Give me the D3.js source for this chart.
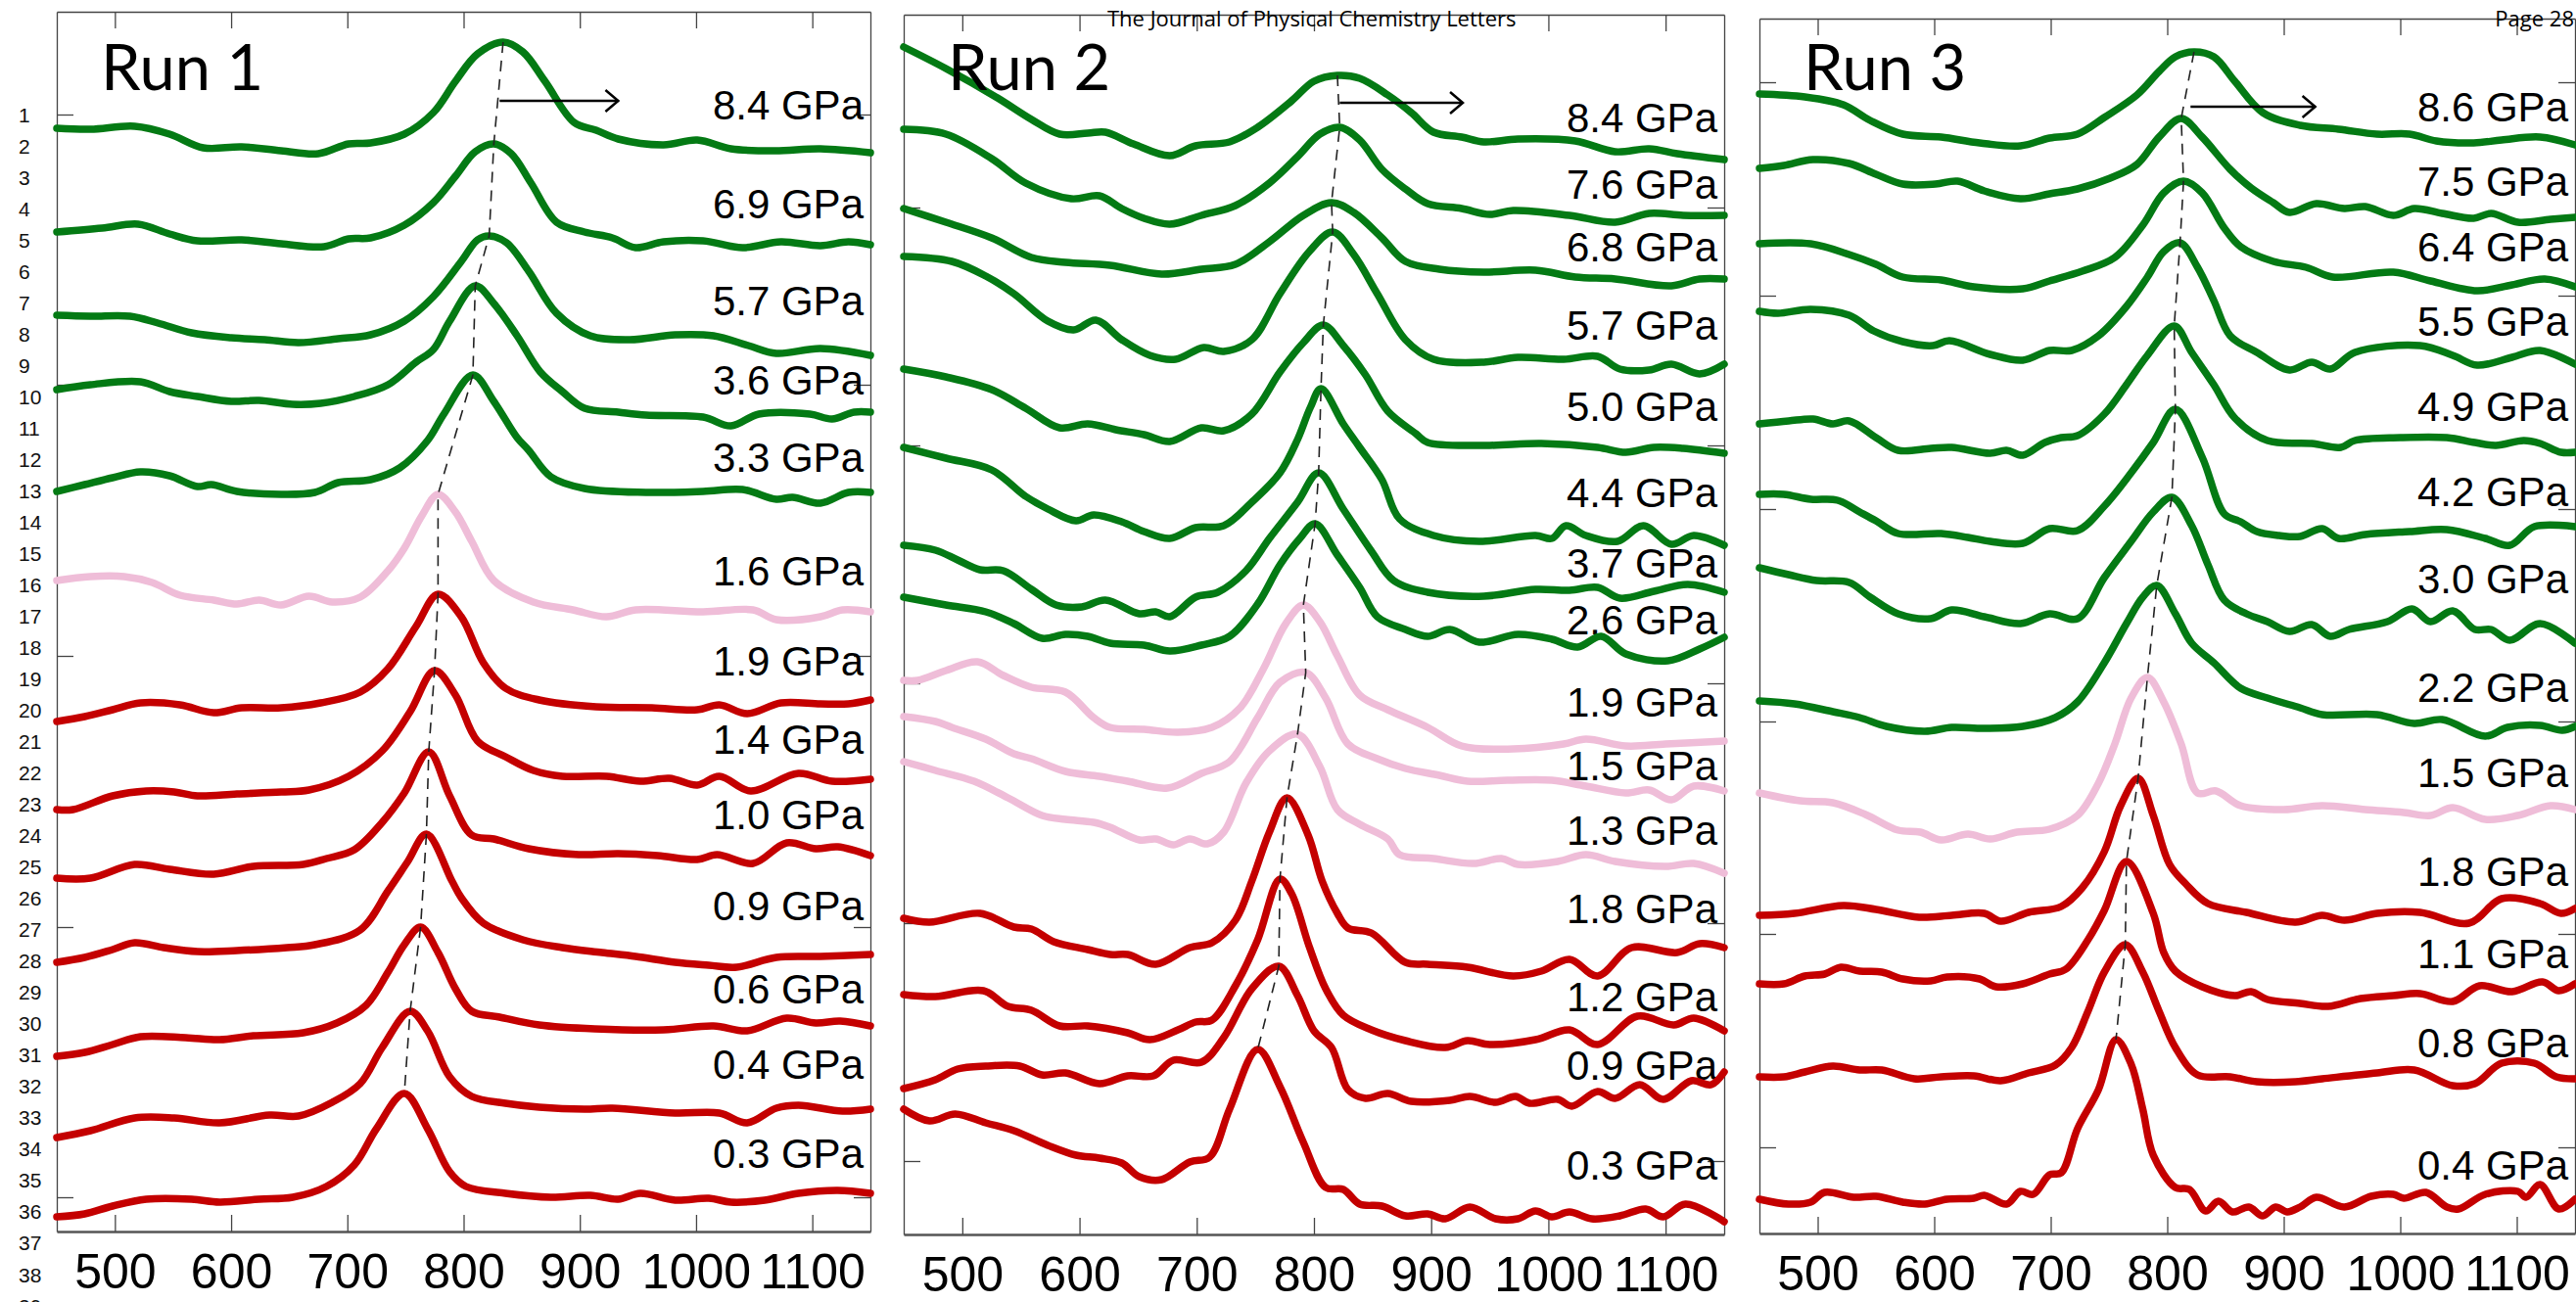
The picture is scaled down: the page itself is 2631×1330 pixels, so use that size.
<!DOCTYPE html>
<html>
<head>
<meta charset="utf-8">
<script src="https://cdn.jsdelivr.net/npm/d3@7"></script>
<style>
  html, body { margin: 0; padding: 0; background: #fff; overflow: hidden; }
  svg { display: block; }
</style>
</head>
<body>
<div id="chart"></div>
<script>
// ---- data (wavenumber cm-1, stacked intensity a.u.) ----
const runNames = ["Run 1", "Run 2", "Run 3"];
const xTicks = [500, 600, 700, 800, 900, 1000, 1100];

const run1Labels = ["8.4 GPa", "6.9 GPa", "5.7 GPa", "3.6 GPa", "3.3 GPa", "1.6 GPa", "1.9 GPa", "1.4 GPa", "1.0 GPa", "0.9 GPa", "0.6 GPa", "0.4 GPa", "0.3 GPa"];
const run1Phases = ["high", "high", "high", "high", "high", "mixed", "low", "low", "low", "low", "low", "low", "low"];
const run1LabelLevels = [1136, 1035, 936, 855, 776, 660, 568, 488, 411, 318, 233, 156, 65];
const run1YTicks = [35, 311, 588, 865, 1141];
const run1Arrow = [[831, 1155], [933, 1155]];
const run1Spectra = [
  [[450,1127],[479,1126],[517,1129],[547,1121],[576,1107],[609,1108],[643,1104],[675,1101],[701,1111],[720,1112],[749,1121],[774,1143],[793,1175],[812,1203],[834,1215],[851,1205],[870,1175],[895,1133],[914,1125],[933,1116],[972,1110],[1001,1115],[1030,1106],[1068,1104],[1107,1106],[1150,1102]],
  [[450,1021],[489,1025],[520,1029],[547,1019],[571,1012],[609,1013],[643,1009],[680,1006],[701,1014],[720,1015],[749,1028],[774,1051],[793,1078],[810,1103],[826,1111],[841,1101],[858,1071],[880,1031],[904,1021],[928,1015],[948,1005],[972,1011],[1006,1012],[1040,1005],[1073,1011],[1107,1007],[1131,1011],[1150,1008]],
  [[450,936],[479,935],[513,935],[537,928],[566,918],[600,913],[629,911],[658,908],[692,912],[720,916],[749,930],[774,955],[798,991],[812,1013],[822,1017],[837,1010],[856,981],[880,938],[909,915],[943,911],[982,916],[1015,915],[1045,905],[1069,897],[1107,902],[1150,895]],
  [[450,860],[479,865],[522,868],[547,858],[571,853],[600,848],[624,849],[653,845],[677,846],[706,853],[735,865],[759,888],[774,901],[788,930],[810,966],[826,948],[846,915],[866,878],[885,858],[904,841],[933,837],[957,834],[1006,832],[1030,823],[1054,835],[1098,835],[1117,830],[1136,837],[1150,837]],
  [[450,756],[474,763],[498,770],[522,776],[547,772],[571,761],[583,763],[605,756],[643,753],[672,755],[692,765],[720,768],[745,780],[769,808],[783,835],[808,875],[826,848],[846,811],[856,798],[875,771],[904,759],[957,755],[1006,756],[1040,758],[1069,748],[1083,750],[1107,744],[1131,755],[1150,755]],
  [[450,665],[479,669],[508,669],[532,663],[556,650],[585,645],[605,641],[624,645],[643,640],[667,649],[687,643],[711,648],[735,675],[749,698],[764,731],[778,753],[793,735],[807,705],[826,665],[860,643],[894,635],[923,628],[948,635],[1006,633],[1049,635],[1069,625],[1107,628],[1126,635],[1150,633]],
  [[450,521],[474,526],[498,533],[522,540],[556,538],[585,530],[609,535],[643,535],[677,540],[711,551],[735,575],[759,618],[778,651],[798,628],[817,581],[836,555],[865,543],[914,536],[962,535],[1001,533],[1020,538],[1044,529],[1073,540],[1107,539],[1131,539],[1150,543]],
  [[450,431],[464,431],[498,445],[527,450],[551,449],[571,445],[605,447],[643,449],[667,451],[701,465],[730,491],[754,531],[775,573],[793,548],[812,501],[836,485],[860,471],[885,465],[923,465],[952,460],[977,463],[1001,456],[1020,465],[1047,450],[1088,468],[1117,460],[1150,462]],
  [[450,361],[479,361],[517,375],[547,370],[585,365],[619,373],[662,375],[682,381],[706,390],[730,418],[749,448],[770,490],[788,445],[807,405],[826,401],[856,391],[899,385],[933,386],[967,384],[1001,380],[1018,385],[1049,376],[1078,397],[1103,391],[1122,393],[1150,384]],
  [[450,275],[474,280],[498,288],[517,295],[542,290],[571,286],[605,287],[648,290],[672,293],[711,308],[735,348],[752,378],[768,406],[790,358],[798,341],[817,315],[851,298],[885,290],[919,285],[948,281],[982,275],[1011,272],[1035,270],[1069,280],[1107,281],[1150,283]],
  [[450,179],[474,183],[498,191],[522,199],[561,198],[590,196],[619,200],[662,203],[691,213],[716,231],[735,265],[749,293],[763,311],[778,285],[793,248],[807,225],[831,219],[865,211],[913,207],[972,206],[1015,210],[1044,205],[1078,218],[1103,213],[1124,215],[1150,210]],
  [[450,96],[479,103],[517,116],[551,116],[590,111],[633,119],[658,118],[687,132],[711,151],[730,188],[754,225],[769,205],[788,158],[807,138],[836,131],[865,127],[904,125],[928,126],[982,121],[1020,121],[1044,111],[1069,126],[1088,129],[1126,123],[1150,125]],
  [[450,15],[474,18],[498,26],[527,33],[566,33],[590,30],[624,33],[653,35],[682,46],[706,68],[725,105],[749,141],[769,105],[788,61],[802,46],[836,39],[875,35],[909,37],[933,33],[952,39],[982,32],[1011,34],[1030,30],[1059,32],[1088,39],[1122,42],[1150,39]]
];

const run2Labels = ["8.4 GPa", "7.6 GPa", "6.8 GPa", "5.7 GPa", "5.0 GPa", "4.4 GPa", "3.7 GPa", "2.6 GPa", "1.9 GPa", "1.5 GPa", "1.3 GPa", "1.8 GPa", "1.2 GPa", "0.9 GPa", "0.3 GPa"];
const run2Phases = ["high", "high", "high", "high", "high", "high", "high", "high", "mixed", "mixed", "mixed", "low", "low", "low", "low"];
const run2LabelLevels = [1126, 1058, 994, 914, 831, 743, 671, 613, 529, 464, 398, 318, 228, 158, 56];
const run2YTicks = [75, 318, 563, 806, 1049];
const run2Arrow = [[822, 1156], [927, 1156]];
const run2Spectra = [
  [[450,1213],[486,1191],[530,1161],[559,1139],[583,1124],[607,1125],[622,1126],[646,1114],[677,1102],[699,1112],[728,1116],[752,1131],[781,1158],[800,1178],[820,1184],[839,1181],[863,1164],[883,1146],[902,1126],[926,1121],[945,1116],[974,1119],[1023,1117],[1057,1106],[1086,1109],[1110,1104],[1150,1098]],
  [[450,1129],[486,1124],[525,1099],[554,1074],[593,1058],[617,1061],[636,1048],[655,1038],[677,1032],[704,1041],[733,1051],[762,1074],[786,1101],[805,1124],[822,1131],[839,1118],[858,1088],[878,1068],[897,1053],[926,1048],[950,1042],[970,1046],[1018,1041],[1057,1034],[1086,1043],[1115,1041],[1150,1041]],
  [[450,1048],[486,1034],[525,1018],[559,998],[588,993],[626,990],[670,981],[704,986],[733,991],[762,1014],[791,1041],[815,1054],[834,1044],[858,1018],[878,994],[907,986],[945,983],[989,985],[1023,978],[1057,976],[1105,969],[1129,976],[1150,976]],
  [[450,999],[491,994],[520,979],[544,961],[573,933],[595,924],[614,934],[636,914],[660,898],[682,894],[706,906],[723,902],[747,914],[771,961],[796,1004],[816,1024],[834,1001],[854,961],[878,914],[902,894],[945,891],[974,896],[1013,894],[1042,897],[1061,884],[1086,883],[1105,889],[1129,879],[1150,889]],
  [[450,884],[486,876],[525,863],[554,844],[583,824],[607,828],[631,822],[655,817],[677,810],[704,824],[723,821],[747,838],[771,881],[791,911],[808,929],[825,908],[844,878],[863,841],[887,818],[897,809],[945,806],[994,808],[1042,804],[1066,799],[1090,804],[1115,803],[1150,798]],
  [[450,804],[486,793],[525,781],[554,754],[573,741],[597,729],[612,735],[636,728],[655,718],[677,711],[699,722],[723,724],[747,748],[771,778],[786,812],[797,845],[806,864],[825,828],[839,804],[858,771],[873,731],[902,714],[941,708],[989,714],[1003,711],[1015,724],[1032,714],[1059,708],[1081,724],[1105,705],[1124,714],[1150,704]],
  [[450,704],[477,699],[496,689],[515,679],[535,678],[559,659],[580,643],[602,641],[622,648],[651,634],[665,636],[677,631],[699,651],[718,656],[742,678],[762,711],[786,748],[804,778],[825,741],[849,698],[868,668],[897,656],[945,652],[989,659],[1018,658],[1042,661],[1061,650],[1090,657],[1119,664],[1150,656]],
  [[450,651],[486,643],[520,636],[544,624],[568,609],[588,613],[607,611],[626,604],[655,602],[677,596],[704,602],[728,611],[752,644],[771,684],[788,711],[801,726],[820,694],[839,661],[854,631],[878,618],[897,611],[916,618],[941,605],[974,613],[1003,608],[1025,600],[1045,611],[1066,593],[1102,586],[1129,598],[1150,610]],
  [[450,566],[462,566],[486,576],[513,585],[535,571],[559,559],[588,554],[612,528],[626,518],[655,516],[684,513],[713,518],[737,538],[757,578],[776,624],[791,643],[805,626],[820,591],[839,551],[863,536],[897,518],[926,499],[970,496],[1013,501],[1032,506],[1066,499],[1100,501],[1150,504]],
  [[450,529],[477,524],[491,518],[520,506],[544,491],[559,486],[588,473],[617,468],[641,463],[675,456],[704,471],[728,483],[752,528],[771,564],[793,574],[810,548],[829,501],[854,486],[878,476],[907,469],[931,463],[965,464],[1003,464],[1032,458],[1066,451],[1086,454],[1105,444],[1124,458],[1150,453]],
  [[450,483],[477,474],[510,463],[539,446],[568,428],[588,424],[612,421],[626,416],[651,403],[665,404],[680,398],[694,404],[709,399],[723,411],[742,461],[762,494],[786,511],[805,478],[820,434],[839,419],[863,404],[873,388],[902,384],[936,379],[960,384],[974,378],[1008,381],[1032,388],[1057,381],[1100,376],[1124,379],[1150,369]],
  [[450,323],[472,319],[515,328],[544,314],[559,312],[578,299],[607,291],[626,286],[641,286],[665,276],[694,293],[713,298],[733,321],[747,361],[762,411],[777,446],[795,408],[807,361],[820,328],[829,313],[849,308],[878,278],[897,276],[931,273],[970,264],[994,269],[1018,281],[1042,264],[1071,293],[1110,288],[1129,297],[1150,293]],
  [[450,245],[477,243],[518,249],[539,233],[559,229],[583,213],[607,213],[641,206],[660,199],[684,209],[699,217],[713,219],[733,254],[752,301],[771,363],[781,348],[796,294],[810,251],[825,224],[849,209],[878,198],[912,191],[931,198],[950,194],[989,199],[1018,209],[1042,194],[1076,223],[1107,214],[1124,221],[1150,208]],
  [[450,149],[477,158],[496,169],[520,172],[549,172],[568,163],[588,165],[617,154],[641,162],[663,162],[680,178],[704,176],[723,201],[747,251],[770,274],[786,244],[800,208],[815,191],[829,148],[844,139],[863,144],[883,136],[916,137],[933,141],[955,135],[972,141],[984,134],[1008,138],[1020,131],[1042,146],[1057,139],[1078,153],[1098,138],[1122,157],[1139,153],[1150,166]],
  [[450,128],[472,116],[494,123],[520,114],[544,106],[573,91],[597,81],[617,78],[636,73],[651,59],[670,56],[694,74],[711,79],[728,128],[752,189],[771,151],[791,94],[810,48],[825,46],[839,31],[858,29],[878,19],[897,21],[912,16],[933,28],[955,16],[974,16],[989,24],[1003,18],[1018,23],[1037,16],[1061,19],[1083,26],[1098,18],[1117,31],[1150,13]]
];

const run3Labels = ["8.6 GPa", "7.5 GPa", "6.4 GPa", "5.5 GPa", "4.9 GPa", "4.2 GPa", "3.0 GPa", "2.2 GPa", "1.5 GPa", "1.8 GPa", "1.1 GPa", "0.8 GPa", "0.4 GPa"];
const run3Phases = ["high", "high", "high", "high", "high", "high", "high", "high", "mixed", "low", "low", "low", "low"];
const run3LabelLevels = [1136, 1060, 993, 917, 830, 743, 654, 543, 456, 355, 271, 180, 55];
const run3YTicks = [88, 306, 523, 740, 958, 1176];
const run3Arrow = [[820, 1151], [927, 1151]];
const run3Spectra = [
  [[450,1164],[489,1161],[522,1153],[545,1137],[573,1123],[606,1120],[639,1114],[674,1111],[699,1119],[723,1123],[746,1140],[774,1163],[793,1187],[807,1202],[823,1207],[840,1202],[858,1177],[882,1145],[914,1132],[947,1128],[980,1123],[1008,1123],[1031,1116],[1063,1114],[1087,1117],[1120,1120],[1150,1112]],
  [[450,1088],[471,1091],[496,1097],[527,1093],[550,1082],[573,1072],[601,1072],[620,1075],[643,1065],[674,1057],[699,1062],[723,1067],[751,1078],[774,1092],[793,1120],[812,1139],[830,1120],[854,1087],[872,1068],[891,1053],[905,1043],[928,1052],[952,1047],[970,1049],[994,1040],[1012,1047],[1036,1042],[1063,1037],[1078,1042],[1101,1033],[1129,1036],[1150,1038]],
  [[450,1011],[494,1011],[527,1000],[550,990],[573,977],[606,974],[634,967],[676,965],[699,973],[727,983],[755,997],[779,1030],[797,1063],[814,1075],[830,1063],[849,1027],[863,1008],[891,993],[919,987],[942,977],[994,982],[1026,973],[1066,963],[1096,969],[1124,975],[1150,967]],
  [[450,942],[466,940],[494,944],[527,938],[548,922],[573,911],[599,907],[613,912],[648,898],[676,892],[699,902],[718,902],[741,917],[765,947],[783,977],[797,1003],[811,1012],[826,987],[840,953],[854,917],[877,900],[905,882],[924,890],[940,883],[961,900],[1017,907],[1045,897],[1066,887],[1096,895],[1120,902],[1150,888]],
  [[450,827],[475,830],[496,832],[513,827],[527,830],[550,813],[569,800],[597,802],[615,803],[648,797],[662,800],[676,795],[695,808],[709,813],[723,815],[746,837],[765,867],[783,897],[806,927],[821,900],[840,867],[858,833],[886,810],[924,807],[949,803],[961,810],[1000,813],[1040,813],[1064,808],[1082,805],[1106,810],[1120,807],[1138,798],[1150,798]],
  [[450,755],[471,755],[494,750],[517,749],[536,737],[550,728],[569,715],[606,715],[629,711],[648,707],[676,705],[699,720],[723,718],[746,743],[769,777],[788,808],[807,842],[830,793],[849,735],[863,727],[877,717],[896,713],[914,712],[933,720],[947,710],[970,714],[1008,717],[1040,719],[1073,710],[1094,703],[1115,722],[1150,722]],
  [[450,680],[475,673],[499,667],[527,665],[545,650],[569,633],[597,628],[615,637],[643,630],[674,623],[699,633],[723,628],[746,670],[769,707],[788,737],[804,752],[821,723],[835,683],[849,647],[868,633],[886,625],[905,615],[924,622],[940,610],[956,617],[989,625],[1010,638],[1026,625],[1045,636],[1064,617],[1078,617],[1094,606],[1120,623],[1150,603]],
  [[450,544],[480,541],[513,533],[536,527],[559,518],[592,513],[615,517],[643,516],[676,518],[704,527],[723,543],[746,583],[765,623],[779,650],[791,662],[807,633],[821,603],[840,583],[863,557],[886,547],[914,537],[933,530],[980,530],[1012,521],[1036,525],[1073,508],[1092,517],[1120,519],[1139,514],[1150,518]],
  [[450,450],[485,442],[513,440],[541,428],[569,412],[588,410],[606,402],[629,408],[648,403],[671,410],[699,413],[723,427],[741,460],[755,500],[769,547],[783,568],[797,543],[812,500],[826,450],[842,452],[863,437],[900,433],[933,437],[970,433],[1003,430],[1026,427],[1045,435],[1073,423],[1101,427],[1129,437],[1150,433]],
  [[450,325],[480,327],[522,335],[550,331],[587,323],[615,325],[643,327],[657,319],[681,328],[709,334],[727,353],[746,390],[760,437],[775,465],[788,427],[802,377],[816,357],[835,337],[868,328],[910,318],[933,325],[952,320],[980,327],[1017,328],[1059,317],[1087,342],[1120,337],[1138,327],[1150,332]],
  [[450,255],[471,255],[489,263],[506,265],[520,272],[536,268],[555,267],[573,260],[597,258],[611,262],[639,260],[653,252],[676,255],[699,265],[713,270],[732,300],[746,330],[765,380],[788,327],[797,287],[807,268],[830,252],[858,243],[872,247],[886,239],[914,235],[938,232],[966,240],[994,243],[1017,245],[1045,237],[1068,253],[1096,247],[1122,257],[1136,248],[1150,255]],
  [[450,160],[471,160],[489,165],[513,171],[536,167],[555,167],[583,158],[606,160],[634,161],[657,156],[681,164],[704,172],[718,190],[732,227],[746,267],[764,295],[779,267],[793,227],[807,190],[826,162],[854,160],[877,155],[910,155],[933,158],[980,164],[1012,167],[1045,151],[1064,153],[1087,174],[1115,174],[1134,160],[1150,158]],
  [[450,35],[475,30],[494,32],[506,42],[531,37],[550,38],[573,32],[592,30],[611,35],[634,36],[643,39],[662,30],[674,43],[685,40],[699,60],[709,62],[723,107],[741,147],[756,198],[769,173],[779,127],[788,80],[807,47],[819,45],[833,23],[844,33],[856,22],[870,27],[882,18],[893,27],[903,22],[914,27],[928,37],[952,27],[975,38],[994,40],[1003,36],[1022,42],[1040,27],[1050,25],[1073,40],[1101,43],[1108,37],[1120,50],[1136,25],[1150,35]]
];

// ---- layout ----
const width = 2631;
const height = 1330;
const xDomain = [450, 1150];
const peakWindow = [720, 880]; // where the band maximum is searched

const panels = [
  { name: runNames[0], labels: run1Labels, phases: run1Phases, spectra: run1Spectra, levels: run1LabelLevels, yTicks: run1YTicks, arrow: run1Arrow, left: 58, right: 889, top: 12, bottom: 1258 },
  { name: runNames[1], labels: run2Labels, phases: run2Phases, spectra: run2Spectra, levels: run2LabelLevels, yTicks: run2YTicks, arrow: run2Arrow, left: 923, right: 1761, top: 15, bottom: 1261 },
  { name: runNames[2], labels: run3Labels, phases: run3Phases, spectra: run3Spectra, levels: run3LabelLevels, yTicks: run3YTicks, arrow: run3Arrow, left: 1797, right: 2630, top: 19, bottom: 1260 }
];

const phaseColor = d3.scaleOrdinal()
  .domain(["high", "mixed", "low"])
  .range(["#047a14", "#efbdd8", "#c40000"]);

const svg = d3.select("#chart")
  .append("svg")
  .attr("width", width)
  .attr("height", height);

// page furniture: manuscript line numbers
const lineY = d3.scaleLinear().domain([1, 38]).range([117, 1302]);
svg.append("g")
  .selectAll("text")
  .data(d3.range(1, 40))
  .join("text")
  .attr("x", 19)
  .attr("y", d => lineY(d))
  .attr("dominant-baseline", "central")
  .attr("font-family", "'Liberation Sans', Arial, sans-serif")
  .attr("font-size", 21)
  .attr("fill", "#111")
  .text(d => d);

panels.forEach(p => {
  const x = d3.scaleLinear().domain(xDomain).range([p.left, p.right]);
  const y = d3.scaleLinear().domain([0, p.bottom - p.top]).range([p.bottom, p.top]);
  const g = svg.append("g");

  // frame + inward ticks
  const bottomAxis = g.append("g")
    .attr("transform", `translate(0,${p.bottom})`)
    .call(d3.axisBottom(x).tickValues(xTicks).tickSize(-17).tickSizeOuter(0).tickPadding(22).tickFormat(d3.format("d")));
  bottomAxis.select(".domain").attr("stroke", "#555").attr("stroke-width", 2.5);
  bottomAxis.selectAll(".tick line").attr("stroke", "#444").attr("stroke-width", 1.3);
  bottomAxis.selectAll(".tick text")
    .attr("font-family", "'Liberation Sans', Arial, sans-serif")
    .attr("font-size", 50)
    .attr("fill", "#000");

  const topAxis = g.append("g")
    .attr("transform", `translate(0,${p.top})`)
    .call(d3.axisTop(x).tickValues(xTicks).tickSize(-17).tickSizeOuter(0).tickFormat(""));
  const leftAxis = g.append("g")
    .attr("transform", `translate(${p.left},0)`)
    .call(d3.axisLeft(y).tickValues(p.yTicks).tickSize(-17).tickSizeOuter(0).tickFormat(""));
  const rightAxis = g.append("g")
    .attr("transform", `translate(${p.right},0)`)
    .call(d3.axisRight(y).tickValues(p.yTicks).tickSize(-17).tickSizeOuter(0).tickFormat(""));
  [topAxis, leftAxis, rightAxis].forEach(a => {
    a.select(".domain").attr("stroke", "#444").attr("stroke-width", 1.3);
    a.selectAll(".tick line").attr("stroke", "#444").attr("stroke-width", 1.3);
  });

  // pressure labels
  g.append("g")
    .selectAll("text")
    .data(p.labels)
    .join("text")
    .attr("x", p.right - 7)
    .attr("y", (d, i) => y(p.levels[i]))
    .attr("text-anchor", "end")
    .attr("font-family", "'Liberation Sans', Arial, sans-serif")
    .attr("font-size", 42)
    .attr("fill", "#000")
    .text(d => d);

  // spectra
  const line = d3.line()
    .x(d => x(d[0]))
    .y(d => y(d[1]))
    .curve(d3.curveCatmullRom.alpha(0.5));

  g.append("g")
    .selectAll("path")
    .data(p.spectra)
    .join("path")
    .attr("d", line)
    .attr("fill", "none")
    .attr("stroke", (d, i) => phaseColor(p.phases[i]))
    .attr("stroke-width", 7.5)
    .attr("stroke-linejoin", "round")
    .attr("stroke-linecap", "round");

  // dashed guide through the band maxima
  const peaks = p.spectra.map(s => s
    .filter(d => d[0] >= peakWindow[0] && d[0] <= peakWindow[1])
    .reduce((a, b) => (b[1] > a[1] ? b : a)));
  g.append("path")
    .datum(peaks)
    .attr("d", d3.line().x(d => x(d[0])).y(d => y(d[1])))
    .attr("fill", "none")
    .attr("stroke", "#222")
    .attr("stroke-width", 1.6)
    .attr("stroke-dasharray", "11,8");

  // arrow
  const ax0 = x(p.arrow[0][0]), ax1 = x(p.arrow[1][0]), ay = y(p.arrow[0][1]);
  g.append("line")
    .attr("x1", ax0).attr("x2", ax1)
    .attr("y1", ay).attr("y2", ay)
    .attr("stroke", "#000").attr("stroke-width", 2.5);
  g.append("path")
    .attr("d", `M${ax1 - 13},${ay - 11}L${ax1},${ay}L${ax1 - 13},${ay + 11}`)
    .attr("fill", "none")
    .attr("stroke", "#000")
    .attr("stroke-width", 2.5);

  // run title
  g.append("text")
    .attr("x", p.left + 45)
    .attr("y", 92)
    .attr("font-family", "Lato, 'Open Sans', sans-serif")
    .attr("font-size", 65)
    .attr("fill", "#000")
    .text(p.name);
});

// running header
svg.append("text")
  .attr("x", 1131)
  .attr("y", 27)
  .attr("font-family", "'Open Sans', sans-serif")
  .attr("font-size", 22)
  .attr("fill", "#000")
  .text("The Journal of Physical Chemistry Letters");

svg.append("text")
  .attr("x", 2629)
  .attr("y", 27)
  .attr("text-anchor", "end")
  .attr("font-family", "'Open Sans', sans-serif")
  .attr("font-size", 22)
  .attr("fill", "#000")
  .text("Page 28");
</script>
</body>
</html>
